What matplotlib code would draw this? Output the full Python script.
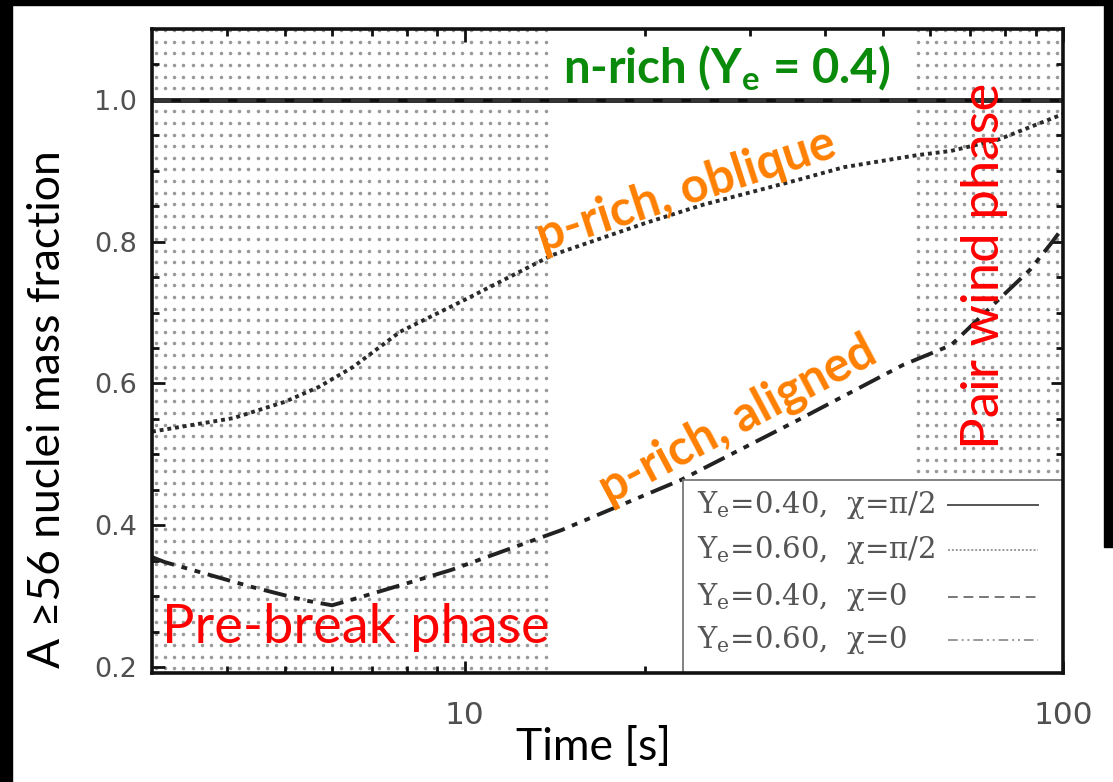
import numpy as np
import matplotlib
matplotlib.use("Agg")
import matplotlib.pyplot as plt
from matplotlib.patches import Rectangle
from matplotlib.ticker import FixedLocator, NullFormatter

# Masa de núcleos A>=56 frente al tiempo [s]
t_oblique = [3.0, 4.1, 5.0, 5.7, 6.5, 7.8, 10.0, 14.0, 20.0, 25.0, 36.0, 43.0, 57.0, 65.0, 78.0, 100.0]
y_oblique = [0.532, 0.551, 0.574, 0.595, 0.623, 0.673, 0.718, 0.781, 0.826, 0.852, 0.887, 0.905, 0.922, 0.928, 0.944, 0.98]
t_aligned = [3.0, 3.15, 4.4, 5.4, 6.0, 6.6, 8.0, 9.5, 12.0, 14.5, 23.0, 36.0, 54.0, 65.0, 78.0, 88.0, 95.0, 100.0]
y_aligned = [0.355, 0.348, 0.313, 0.294, 0.287, 0.297, 0.318, 0.337, 0.368, 0.393, 0.464, 0.548, 0.626, 0.654, 0.718, 0.76, 0.795, 0.82]
t_nrich = [3.0, 100.0]
y_nrich = [1.0, 1.0]

leyenda = [r"Y$_\mathregular{e}$=0.40,  χ=π/2", r"Y$_\mathregular{e}$=0.60,  χ=π/2",
           r"Y$_\mathregular{e}$=0.40,  χ=0", r"Y$_\mathregular{e}$=0.60,  χ=0"]
estilos = ['-', (0, (1, 1)), (0, (5, 3)), (0, (5, 2, 1, 2, 1, 2))]
grises = ['#555555', '#999999', '#777777', '#999999']

# Fases
fin_prebreak = 14.1
inicio_pairwind = 56.6
techo_pairwind = 0.464

W, H = 1113, 782
fig = plt.figure(figsize=(W / 100, H / 100), dpi=100)
ax = fig.add_axes([152 / W, 1 - 673 / H, 911 / W, 644 / H])
ax.set_xscale('log')
ax.set_xlim(3, 100)
ax.set_ylim(0.1915, 1.1)

# Punteado de las fases
paso_log = 0.01553
paso_y = 0.01637
ys = np.arange(0.198, 1.1, paso_y)
xs = 10 ** np.arange(np.log10(3.0) + 0.006, np.log10(fin_prebreak), paso_log)
gx, gy = np.meshgrid(xs, ys)
ax.scatter(gx.ravel(), gy.ravel(), s=6.5, marker='o', color='#999999', lw=0, zorder=1)
xs2 = 10 ** np.arange(np.log10(inicio_pairwind) + 0.004, 2.0, paso_log)
ys2 = ys[ys > techo_pairwind + 0.008]
gx, gy = np.meshgrid(xs2, ys2)
ax.scatter(gx.ravel(), gy.ravel(), s=6.5, marker='o', color='#999999', lw=0, zorder=1)

# Curvas
ax.plot(t_nrich, y_nrich, color='#111111', lw=3.4, zorder=3)
ax.plot(t_nrich, y_nrich, color='#333333', lw=3.4, ls=(0, (4, 2)), zorder=3)
ax.plot(t_oblique, y_oblique, color='#2a2a2a', lw=2.8, ls=(0, (1, 1)), zorder=3)
ax.plot(t_aligned, y_aligned, color='#222222', lw=2.8, ls=(0, (6, 2, 1.5, 2, 1.5, 2)), zorder=3)

# Leyenda dibujada a mano: texto a la izquierda, muestra de línea a la derecha
x0, y0 = 0.583, 0.30
ax.add_patch(Rectangle((x0, 0), 1 - x0, y0, transform=ax.transAxes, facecolor='white',
                       edgecolor='#777777', lw=1.3, zorder=4))
filas = [0.261, 0.191, 0.118, 0.051]
for lab, ls, c, fy in zip(leyenda, estilos, grises, filas):
    ax.text(0.598, fy, lab, transform=ax.transAxes, ha='left', va='center', fontsize=21,
            family='DejaVu Serif', color='#555555', zorder=5)
    ax.plot([0.874, 0.9726], [fy, fy], transform=ax.transAxes, color=c, lw=1.4, ls=ls, zorder=5)

# Ejes
for s in ax.spines.values():
    s.set_linewidth(2.6)
    s.set_color('#111111')
    s.set_zorder(6)
ax.set_yticks([0.2, 0.4, 0.6, 0.8, 1.0])
ax.set_yticklabels(['0.2', '0.4', '0.6', '0.8', '1.0'])
ax.yaxis.set_minor_locator(FixedLocator(np.arange(0.2, 1.1, 0.05)))
ax.set_xticks([10, 100])
ax.set_xticklabels(['10', '100'])
ax.xaxis.set_minor_locator(FixedLocator([4, 5, 6, 7, 8, 9, 20, 30, 40, 50, 60, 70, 80, 90]))
ax.xaxis.set_minor_formatter(NullFormatter())
ax.tick_params(which='both', direction='in', top=True, right=True, color='#111111', width=2)
ax.tick_params(which='major', length=9)
ax.tick_params(which='minor', length=5)
ax.tick_params(axis='y', labelsize=19.5, labelcolor='#505050', pad=11)
ax.tick_params(axis='x', labelsize=22.5, labelcolor='#505050', pad=20)

# Rótulos
fig.text(48 / W, 1 - 409 / H, r"A ≥56 nuclei mass fraction", rotation=90, ha='center', va='center',
         fontsize=32, family='Lato', color='black')
fig.text(593 / W, 1 - 748 / H, "Time [s]", ha='center', va='center', fontsize=32, family='Lato')
fig.text(727 / W, 1 - 68 / H, r"n-rich (Y$_\mathregular{e}$ = 0.4)", ha='center', va='center',
         fontsize=34, family='Lato', weight='bold', color='#0a8a0a')
fig.text(686 / W, 1 - 190 / H, "p-rich, oblique", ha='center', va='center', rotation=18,
         fontsize=35, family='Lato', weight='bold', color='#ff7f00')
fig.text(738 / W, 1 - 420 / H, "p-rich, aligned", ha='center', va='center', rotation=28,
         fontsize=35, family='Lato', weight='bold', color='#ff7f00')
fig.text(356 / W, 1 - 628 / H, "Pre-break phase", ha='center', va='center',
         fontsize=39, family='Lato', color='#ff0000')
fig.text(984 / W, 1 - 266 / H, "Pair wind phase", ha='center', va='center', rotation=90,
         fontsize=38, family='Lato', color='#ff0000')

# Marco negro
fig.add_artist(Rectangle((0, 0), 12 / W, 1, transform=fig.transFigure, color='black', zorder=10))
fig.add_artist(Rectangle((0, 1 - 5 / H), 1, 5 / H, transform=fig.transFigure, color='black', zorder=10))
fig.add_artist(Rectangle((1 - 9 / W, 0.3), 9 / W, 0.7, transform=fig.transFigure, color='black', zorder=10))

fig.savefig('out.png', dpi=100, facecolor='white')
